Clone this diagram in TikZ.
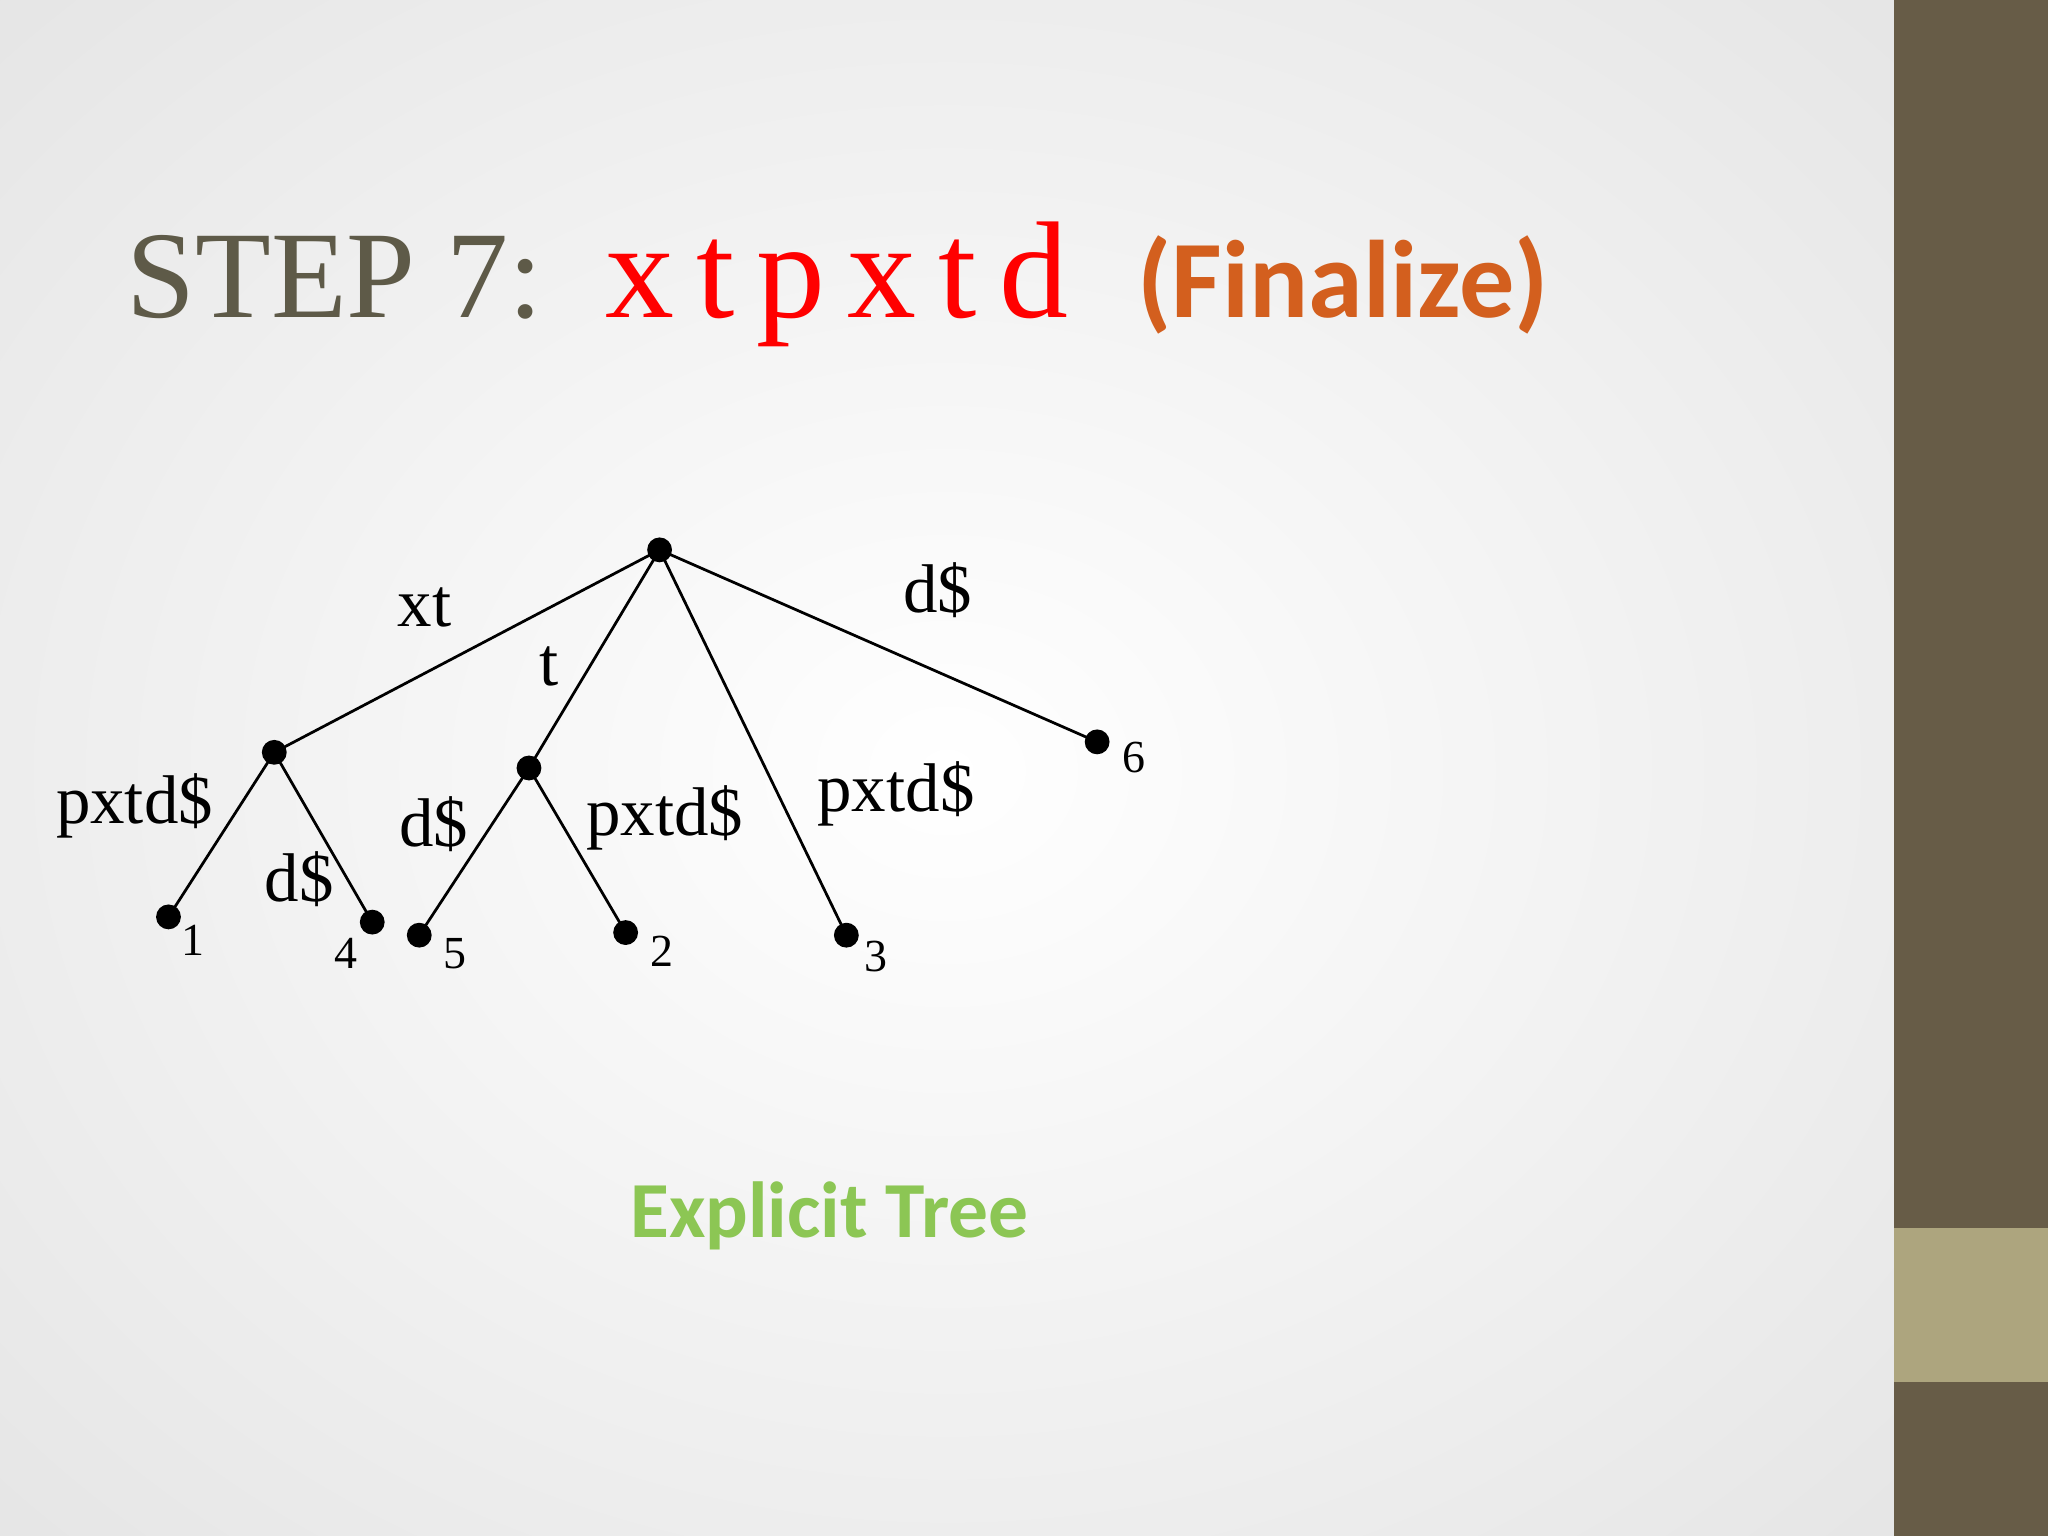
\documentclass[tikz,border=0pt]{standalone}
\usepackage{fontspec}
\setmainfont{Liberation Serif}
\newfontfamily\carl{Carlito}
\definecolor{olive}{HTML}{5E5A48}
\definecolor{barc}{HTML}{675C47}
\definecolor{barl}{HTML}{ADA57E}
\definecolor{fin}{HTML}{D35F1E}
\definecolor{grn}{HTML}{8CC654}
\begin{document}
\begin{tikzpicture}[x=0.01cm,y=-0.01cm,
  dot/.style={circle,fill=black,inner sep=0pt,minimum size=0.19cm},
  lab/.style={font=\fontsize{15}{18}\selectfont},
  num/.style={font=\fontsize{10}{12}\selectfont},
  edge/.style={line width=0.6pt}]
\useasboundingbox (0,0) rectangle (1568,1176);
\shade[inner color=white,outer color=black!13] (-600,-500) rectangle (2050,1680);
\fill[barc] (1450,0) rectangle (1568,1176);
\fill[barl] (1450,940) rectangle (1568,1058);
\node[anchor=base west,text=olive,font=\fontsize{27}{30}\selectfont,inner sep=0] (t1) at (96,243) {STEP 7:};
\node[anchor=base west,text=red,font=\fontsize{30}{34}\selectfont\addfontfeature{LetterSpace=16},inner sep=0] (t2) at (463,243) {xtpxtd};
\node[anchor=base west,text=fin,font=\carl\bfseries\fontsize{24}{28}\selectfont,inner sep=0] (t3) at (870,243) {(Finalize)};
\node[text=grn,font=\carl\bfseries\fontsize{17.3}{21}\selectfont] (cap) at (635,931) {Explicit Tree};
\node[dot] (r) at (505,421) {};
\node[dot] (a) at (210,576) {};
\node[dot] (b) at (405,588) {};
\node[dot] (l6) at (840,568) {};
\node[dot] (l1) at (129,702) {};
\node[dot] (l4) at (285,706) {};
\node[dot] (l5) at (321,716) {};
\node[dot] (l2) at (479,714) {};
\node[dot] (l3) at (648,716) {};
\draw[edge] (r.center)--(a.center) (r.center)--(b.center) (r.center)--(l3.center) (r.center)--(l6.center)
 (a.center)--(l1.center) (a.center)--(l4.center) (b.center)--(l5.center) (b.center)--(l2.center);
\node[lab] (e1) at (325,465) {xt};
\node[lab] (e2) at (420,510) {t};
\node[lab] (e3) at (718,452) {d\$};
\node[lab] (e4) at (103,617) {pxtd\$};
\node[lab] (e5) at (229,673) {d\$};
\node[lab] (e6) at (332,631) {d\$};
\node[lab] (e7) at (509,626) {pxtd\$};
\node[lab] (e8) at (686,608) {pxtd\$};
\node[num] (n1) at (148,720) {1};
\node[num] (n4) at (265,730) {4};
\node[num] (n5) at (348,730) {5};
\node[num] (n2) at (507,728) {2};
\node[num] (n3) at (671,732) {3};
\node[num] (n6) at (868,580) {6};
\end{tikzpicture}
\end{document}
